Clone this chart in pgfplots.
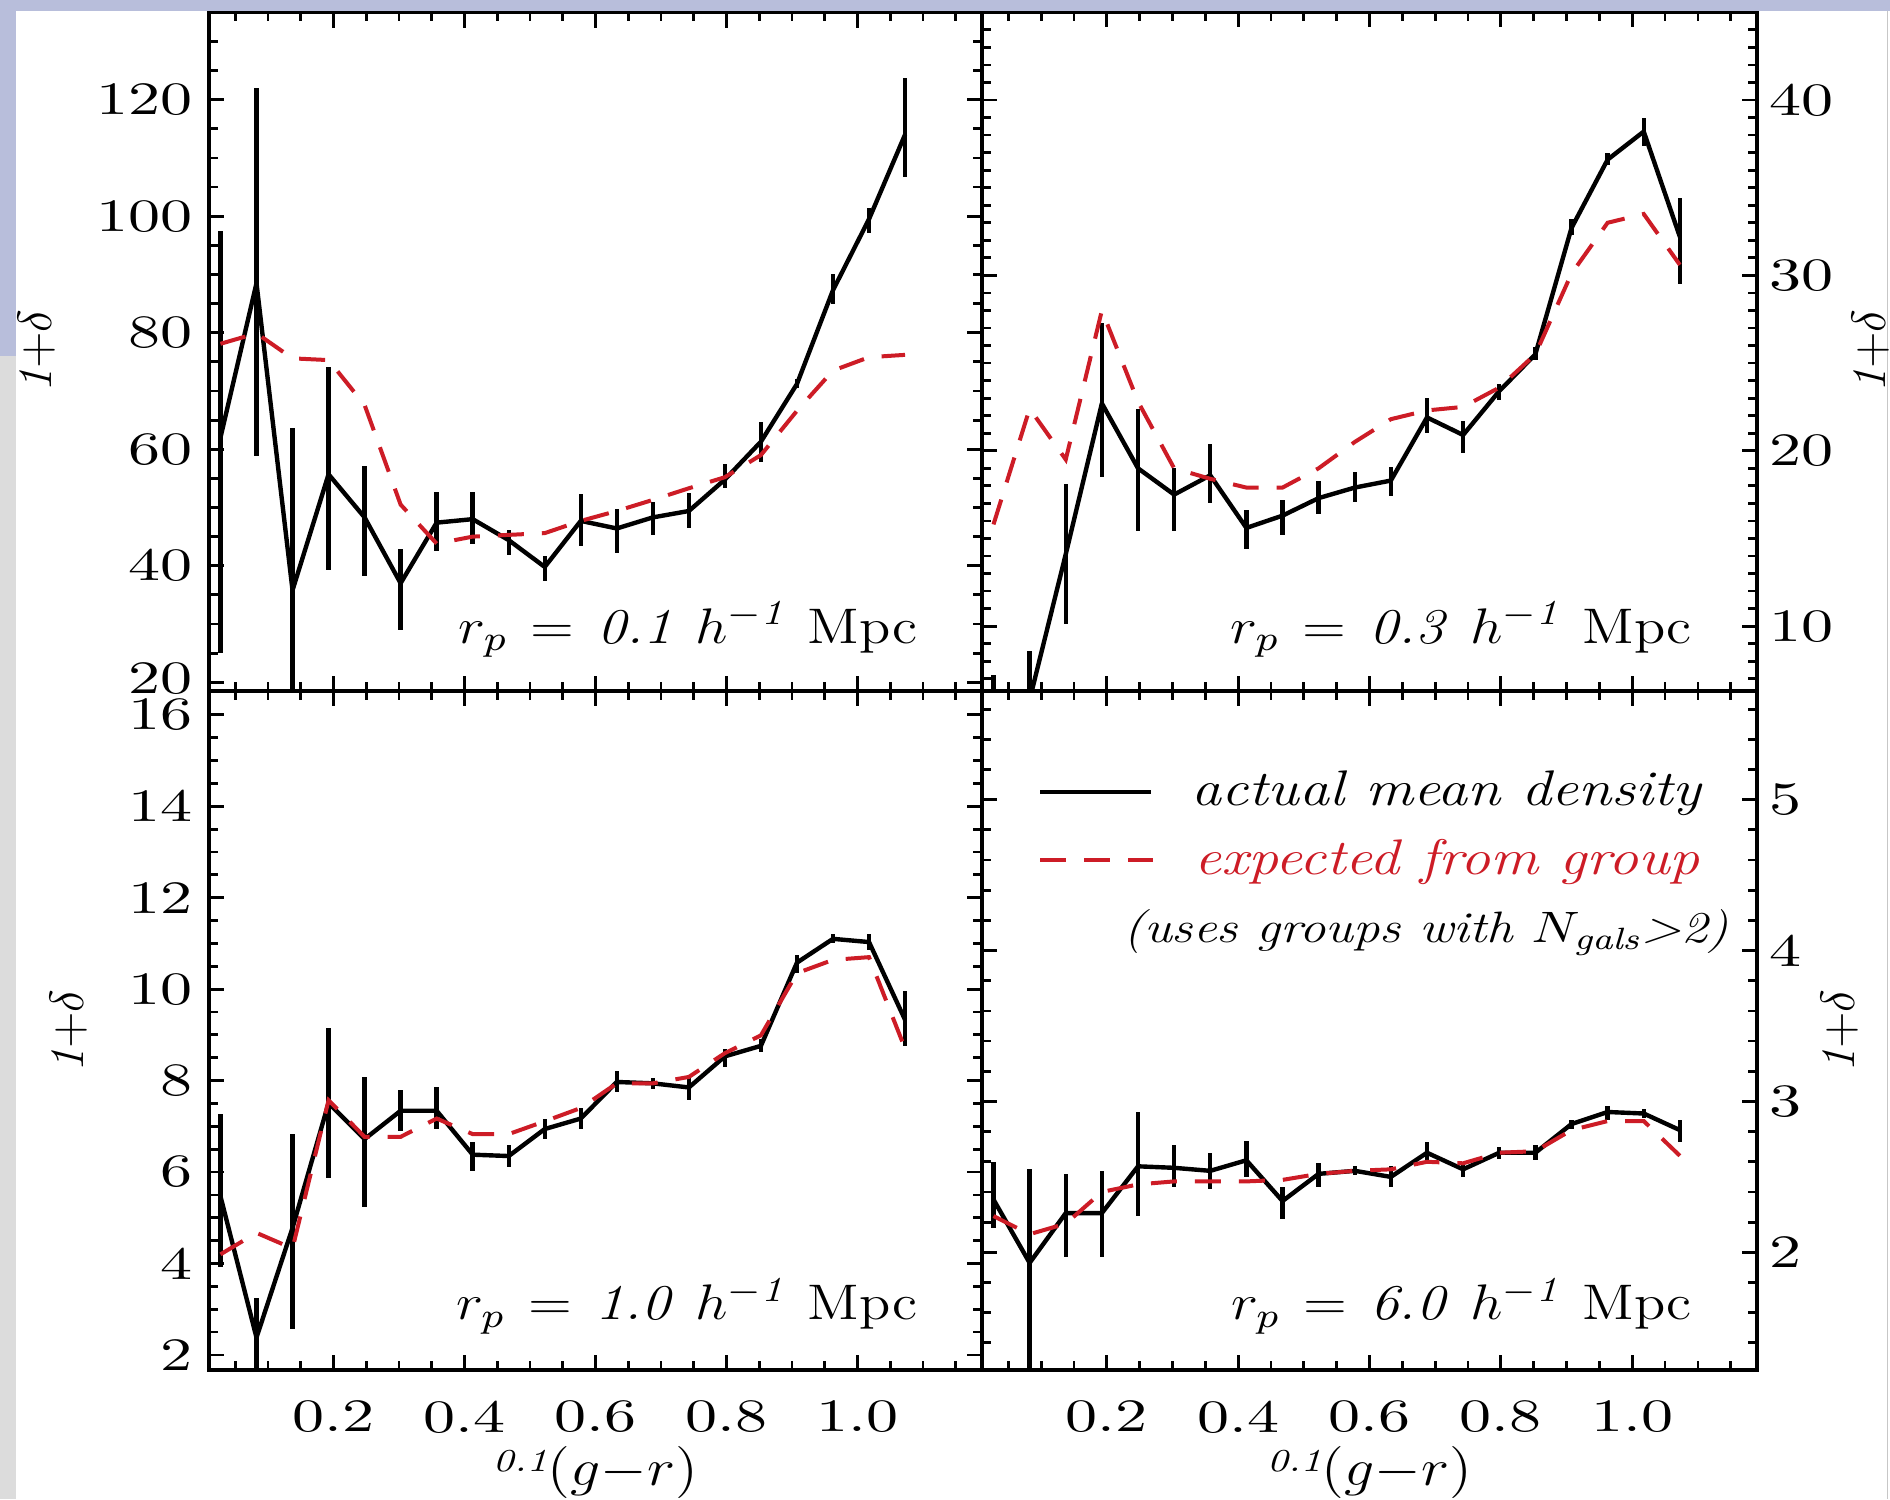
\RequirePackage{fix-cm}
\documentclass[border=0pt]{standalone}
\usepackage{fontspec}
\usepackage{graphicx}
\usepackage{pgfplots}
\usepackage{pgfplotstable}
\pgfplotsset{compat=1.18}
\newfontfamily\tickfamily[FakeStretch=1.38]{lmroman10-regular.otf}
\newcommand\tickfnt{\fontsize{11.6}{13}\tickfamily}
\newcommand\lblfnt{\fontsize{12.5}{15}\selectfont}
\definecolor{idlred}{RGB}{205,28,38}
\definecolor{lav}{RGB}{184,190,219}
\definecolor{lgray}{RGB}{220,220,220}
\newcommand\rplabel[1]{\lblfnt\scalebox{1.15}[1]{$r_p$\hspace{0.4em}=\hspace{0.4em}\textit{#1}\hspace{0.4em}$h^{-\mathit{1}}$\hspace{0.4em}Mpc}}
\newcommand\gmr{\scalebox{1.2}[1]{\raisebox{3.6pt}{\fontsize{8}{8}\selectfont\itshape 0.1}}\scalebox{1.15}[1]{$(g{-}r)$}}

\pgfplotstableread{
x y lo hi e
0.0275 62.0 25.1 97.4 78.1
0.0825 88.5 58.8 122.0 79.9
0.1375 35.8 15.0 63.7 75.6
0.1925 55.7 39.2 74.1 75.3
0.2475 48.3 38.2 57.2 67.6
0.3025 37.0 29.0 42.8 50.5
0.3575 47.4 42.5 52.6 43.8
0.4125 48.0 43.8 52.6 45.0
0.4675 44.4 41.9 46.2 45.3
0.5225 39.8 37.3 41.6 45.6
0.5775 47.7 43.4 52.3 47.7
0.6325 46.4 42.2 49.8 49.4
0.6875 48.3 45.2 51.0 51.3
0.7425 49.4 46.4 52.5 53.3
0.7975 54.8 53.3 57.5 55.2
0.8525 61.3 57.8 64.7 59.0
0.9075 71.2 70.5 72.0 66.6
0.9625 87.3 85.0 90.0 73.5
1.0175 99.5 97.2 101.4 75.8
1.0725 114.0 106.8 123.8 76.2
}\tA

\pgfplotstableread{
x y lo hi e
0.0275 5.0 3.0 7.2 15.8
0.0825 5.8 3.0 8.6 22.4
0.1375 14.1 10.1 18.1 19.5
0.1925 22.7 18.5 27.3 28.0
0.2475 19.0 15.4 22.4 22.8
0.3025 17.5 15.4 19.0 19.0
0.3575 18.6 17.0 20.4 18.4
0.4125 15.6 14.4 16.6 17.9
0.4675 16.3 15.2 17.2 17.9
0.5225 17.3 16.4 18.3 19.0
0.5775 17.9 17.1 18.8 20.5
0.6325 18.3 17.4 19.1 21.8
0.6875 21.9 21.0 23.0 22.3
0.7425 20.9 19.9 21.7 22.5
0.7975 23.4 22.9 23.8 23.6
0.8525 25.5 25.2 25.9 25.5
0.9075 32.7 32.3 33.2 30.1
0.9625 36.6 36.3 37.0 33.0
1.0175 38.2 37.4 39.0 33.5
1.0725 32.2 29.5 34.4 30.6
}\tB

\pgfplotstableread{
x y lo hi e
0.0275 5.47 3.93 7.28 4.20
0.0825 2.38 1.00 3.25 4.67
0.1375 4.78 2.57 6.83 4.33
0.1925 7.51 5.86 9.16 7.57
0.2475 6.72 5.24 8.08 6.77
0.3025 7.34 6.90 7.80 6.77
0.3575 7.34 6.94 7.85 7.17
0.4125 6.38 6.03 6.66 6.83
0.4675 6.35 6.10 6.60 6.83
0.5225 6.94 6.72 7.17 7.11
0.5775 7.17 6.94 7.40 7.40
0.6325 7.97 7.74 8.20 7.94
0.6875 7.94 7.82 8.06 7.94
0.7425 7.85 7.57 8.08 8.08
0.7975 8.53 8.30 8.70 8.60
0.8525 8.76 8.62 8.90 8.99
0.9075 10.58 10.35 10.75 10.35
0.9625 11.10 11.00 11.20 10.64
1.0175 11.03 10.85 11.20 10.70
1.0725 9.33 8.76 9.95 8.70
}\tC

\pgfplotstableread{
x y lo hi e
0.0275 2.35 2.16 2.60 2.24
0.0825 1.93 1.00 2.55 2.12
0.1375 2.26 1.97 2.52 2.19
0.1925 2.26 1.97 2.54 2.40
0.2475 2.57 2.24 2.93 2.45
0.3025 2.56 2.43 2.71 2.47
0.3575 2.54 2.42 2.66 2.47
0.4125 2.61 2.50 2.74 2.47
0.4675 2.34 2.22 2.43 2.48
0.5225 2.52 2.43 2.59 2.52
0.5775 2.54 2.51 2.57 2.54
0.6325 2.50 2.43 2.57 2.55
0.6875 2.66 2.59 2.73 2.60
0.7425 2.55 2.50 2.60 2.59
0.7975 2.66 2.62 2.70 2.66
0.8525 2.66 2.61 2.71 2.67
0.9075 2.85 2.82 2.88 2.81
0.9625 2.93 2.88 2.97 2.87
1.0175 2.92 2.89 2.95 2.87
1.0725 2.81 2.73 2.88 2.64
}\tD

\pgfplotsset{
  panel/.style={
    scale only axis,
    anchor=north west,
    xmin=0.01, xmax=1.19,
    xtick={0.2,0.4,0.6,0.8,1.0},
    minor xtick={0.05,0.1,...,1.15},
    tick pos=both,
    tick align=inside,
    major tick length=3.8pt,
    minor tick length=2.2pt,
    every tick/.append style={line width=0.7pt, black},
    axis line style={line width=0.8pt, black},
    tick label style={font=\tickfnt},
    xticklabel style={inner sep=0.5pt, yshift=-7.0pt},
    ylabel style={font=\fontsize{12}{14}\selectfont},
    xlabel style={font=\fontsize{13}{15}\selectfont, inner sep=0.5pt, at={(axis description cs:0.5,-0.1705)}, anchor=base},
  },
  actual/.style={black, line width=1.1pt, line join=round,
    error bars/.cd, y dir=both, y explicit, error mark=none,
    error bar style={line width=1.1pt, black}},
  expected/.style={idlred, line width=1pt, dash pattern=on 6.5pt off 4.5pt},
}
\newcommand\addactual[1]{\addplot[actual] table[x=x, y=y,
  y error plus expr=\thisrow{hi}-\thisrow{y},
  y error minus expr=\thisrow{y}-\thisrow{lo}] {#1};}
\newcommand\addexpected[1]{\addplot[expected] table[x=x, y=e] {#1};}

\begin{document}
\begin{tikzpicture}
\path[use as bounding box] (0,0) rectangle (472.5pt,-374.75pt);
\fill[white] (0,0) rectangle (472.5pt,-374.75pt);
\fill[lav] (0,0) rectangle (472.5pt,-2.75pt);
\fill[lav] (0,0) rectangle (4pt,-89pt);
\fill[lgray] (0,-89pt) rectangle (4pt,-374.75pt);
\draw[black!22, line width=0.4pt] (471.9pt,-2.75pt) -- (471.9pt,-374.75pt);

% top-left
\begin{axis}[panel, at={(52.25pt,-3.075pt)}, width=193.25pt, height=169.675pt,
  ymin=18.5, ymax=135,
  ytick={20,40,...,120}, yticklabels={\raisebox{2.3pt}{20},40,60,80,100,120},
  minor ytick={20,25,...,135},
  xticklabels={},
  yticklabel style={inner sep=0.5pt, xshift=-3.37pt},
  ylabel={$\mathit{1}{+}\delta$},
  ylabel style={at={(axis description cs:-0.2229,0.5007)}, anchor=center}]
\addactual{\tA}
\addexpected{\tA}
\node[anchor=base east, inner sep=0pt] at (axis description cs:0.917,0.0707) {\rplabel{0.1}};
\end{axis}

% top-right
\begin{axis}[panel, at={(245.5pt,-3.075pt)}, width=193.75pt, height=169.675pt,
  ymin=6.3, ymax=45,
  ytick={10,20,30,40}, yticklabels={10,20,30,40},
  minor ytick={7,8,...,45},
  xticklabels={},
  yticklabel pos=right, ytick pos=both,
  yticklabel style={inner sep=0.5pt, xshift=2.37pt},
  ylabel={$\mathit{1}{+}\delta$},
  ylabel style={at={(axis description cs:1.147,0.5007)}, anchor=center}]
\addactual{\tB}
\addexpected{\tB}
\node[anchor=base east, inner sep=0pt] at (axis description cs:0.917,0.0707) {\rplabel{0.3}};
\end{axis}

% bottom-left
\begin{axis}[panel, at={(52.25pt,-172.75pt)}, width=193.25pt, height=169.75pt,
  ymin=1.67, ymax=16.52,
  ytick={2,4,...,16}, yticklabels={2,4,6,8,10,12,14,\raisebox{-0.5pt}{16}},
  minor ytick={2,2.5,...,16.5},
  xticklabels={0.2,0.4,0.6,0.8,1.0},
  yticklabel style={inner sep=0.5pt, xshift=-3.37pt},
  xlabel={\gmr},
  ylabel={$\mathit{1}{+}\delta$},
  ylabel style={at={(axis description cs:-0.1818,0.499)}, anchor=center}]
\addactual{\tC}
\addexpected{\tC}
\node[anchor=base east, inner sep=0pt] at (axis description cs:0.917,0.074) {\rplabel{1.0}};
\end{axis}

% bottom-right
\begin{axis}[panel, at={(245.5pt,-172.75pt)}, width=193.75pt, height=169.75pt,
  ymin=1.22, ymax=5.72,
  ytick={2,3,4,5}, yticklabels={2,3,4,5},
  minor ytick={1.4,1.6,...,5.6},
  xticklabels={0.2,0.4,0.6,0.8,1.0},
  yticklabel pos=right, ytick pos=both,
  yticklabel style={inner sep=0.5pt, xshift=2.37pt},
  xlabel={\gmr},
  ylabel={$\mathit{1}{+}\delta$},
  ylabel style={at={(axis description cs:1.107,0.499)}, anchor=center}]
\addactual{\tD}
\addexpected{\tD}
\node[anchor=base east, inner sep=0pt] at (axis description cs:0.917,0.074) {\rplabel{6.0}};
\draw[black, line width=1.1pt] (axis description cs:0.075,0.851) -- (axis description cs:0.218,0.851);
\draw[idlred, line width=1pt, dash pattern=on 6.5pt off 4.5pt] (axis description cs:0.075,0.751) -- (axis description cs:0.220,0.751);
\node[anchor=base east, inner sep=0pt] at (axis description cs:0.929,0.832) {\lblfnt\scalebox{1.2}[1]{\itshape actual mean density}};
\node[anchor=base east, inner sep=0pt, text=idlred] at (axis description cs:0.927,0.730) {\lblfnt\scalebox{1.2}[1]{\itshape expected from group}};
\node[anchor=base east, inner sep=0pt] at (axis description cs:0.965,0.629) {\fontsize{11}{13}\selectfont\scalebox{1.2}[1]{\itshape (uses groups with $N_{\mathit{gals}}$>2)}};
\end{axis}
\end{tikzpicture}
\end{document}
